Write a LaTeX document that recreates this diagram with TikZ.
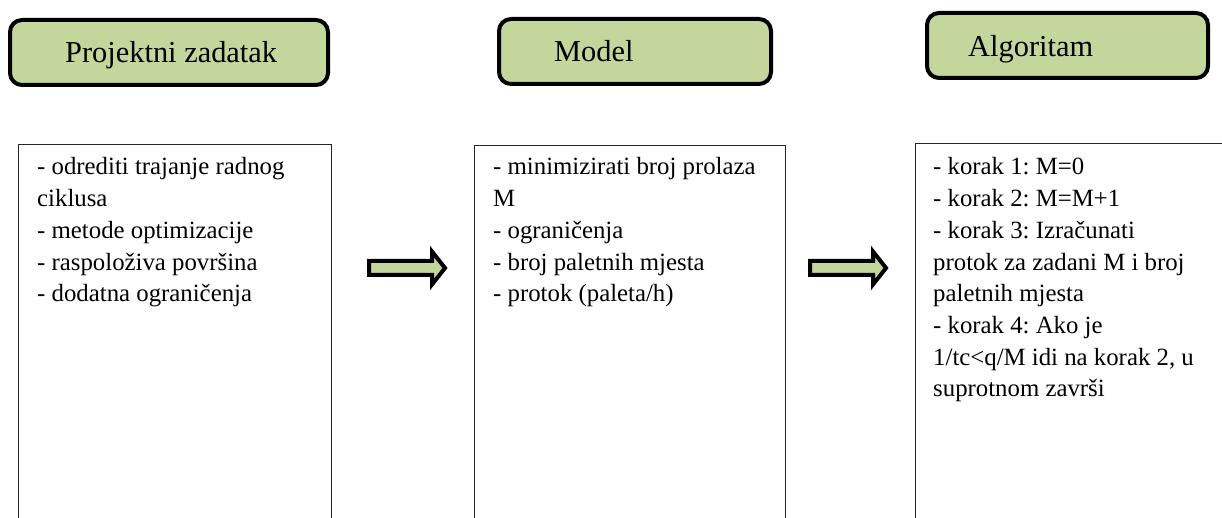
\documentclass[tikz,border=0pt]{standalone}
\usepackage{fontspec}
\setmainfont{Liberation Serif}
\newfontfamily\tnr{Liberation Serif}
\definecolor{hdrgreen}{HTML}{C3D69B}
\frenchspacing
\begin{document}
\begin{tikzpicture}[x=1pt,y=-1pt,
  hdr/.style={draw=black, line width=4pt, rounded corners=12pt, fill=hdrgreen, minimum height=65pt, inner sep=0pt},
  hdrtext/.style={anchor=base west, inner sep=0pt, font=\tnr\fontsize{30.4pt}{36pt}\selectfont},
  body/.style={draw=black!85, line width=1.3pt, anchor=north west, minimum height=420pt, inner sep=0pt},
  bodytext/.style={anchor=base west, inner sep=0pt, font=\tnr\fontsize{24.8pt}{31.7pt}\selectfont},
  blockarrow/.style={draw=black, line width=4pt, fill=hdrgreen, line join=miter}]
\clip (0,0) rectangle (1222,518);
\fill[white] (0,0) rectangle (1222,518);
% header boxes
\node[hdr, minimum width=318pt] (h1) at (169,52.5) {};
\node[hdr, minimum width=272pt] (h2) at (635,51.5) {};
\node[hdr, minimum width=281pt] (h3) at (1067.5,45.5) {};
\node[hdrtext] (t1) at (65,63) {Projektni zadatak};
\node[hdrtext] (t2) at (554,62) {Model};
\node[hdrtext] (t3) at (968,57) {Algoritam};
% body boxes
\node[body, minimum width=313pt] (b1) at (18,144) {};
\node[body, minimum width=311pt] (b2) at (474,145) {};
\node[body, minimum width=340pt] (b3) at (915,143) {};
\node[bodytext] (l1) at (37,175) {\vtop{\hbox{- odrediti trajanje radnog}\hbox{ciklusa}\hbox{- metode optimizacije}\hbox{- raspoloživa površina}\hbox{- dodatna ograničenja}}};
\node[bodytext] (l2) at (493,175) {\vtop{\hbox{- minimizirati broj prolaza}\hbox{M}\hbox{- ograničenja}\hbox{- broj paletnih mjesta}\hbox{- protok (paleta/h)}}};
\node[bodytext] (l3) at (933,175) {\vtop{\hbox{- korak 1: M=0}\hbox{- korak 2: M=M+1}\hbox{- korak 3: Izračunati}\hbox{protok za zadani M i broj}\hbox{paletnih mjesta}\hbox{- korak 4: Ako je}\hbox{1/tc<q/M idi na korak 2, u}\hbox{suprotnom završi}}};
% block arrows
\coordinate (a1) at (369,281.5);
\coordinate (a2) at (810,281.5);
\foreach \c in {a1,a2}{
  \draw[blockarrow] ([yshift=6.5pt]\c) -- ++(63,0) -- ++(0,9.5) -- ++(13,-16.5) -- ++(-13,-16.5) -- ++(0,9.5) -- ++(-63,0) -- cycle;
}
\end{tikzpicture}
\end{document}
